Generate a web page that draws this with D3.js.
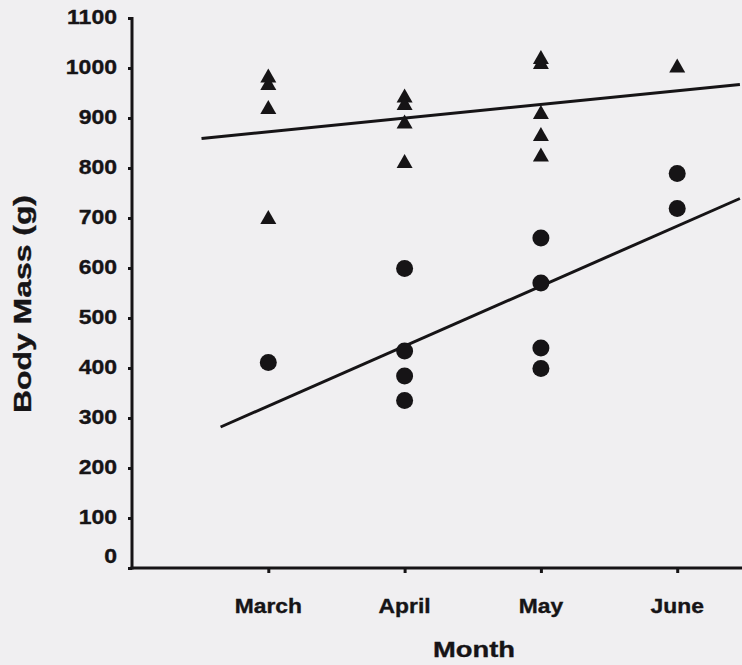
<!DOCTYPE html>
<html><head><meta charset="utf-8">
<script src="https://cdn.jsdelivr.net/npm/d3@7"></script>
<style>
html,body{margin:0;padding:0;background:#f0eff1;}
svg{display:block;}
text{font-family:"Liberation Sans",Arial,Helvetica,sans-serif;font-weight:bold;fill:#161416;stroke:#161416;stroke-width:0.35px;}
</style></head>
<body>
<script>
// ---- data ----
const months = ["March", "April", "May", "June"];
const monthIndex = [1, 2, 3, 4];
const yTicks = [0, 100, 200, 300, 400, 500, 600, 700, 800, 900, 1000, 1100];
// triangles (upper group), per month
const triMarch = [985, 970, 922, 702];
const triApril = [945, 930, 893, 814];
const triMay = [1022, 1012, 912, 868, 827];
const triJune = [1005];
// circles (lower group), per month
const cirMarch = [411];
const cirApril = [599, 434, 384, 335];
const cirMay = [660, 570, 440, 399];
const cirJune = [789, 719];
// fitted lines (endpoints)
const upperLineX = [0.51, 4.46];
const upperLineY = [859, 967];
const lowerLineX = [0.65, 4.46];
const lowerLineY = [282, 739];

const W = 742, H = 665;
const ink = "#161416";
const svg = d3.select("body").append("svg").attr("width", W).attr("height", H);

const x = d3.scaleLinear().domain([0, 4.468]).range([132, 741]);
const y = d3.scaleLinear().domain([0, 1100]).range([568, 18]);

// axes
const yAxis = d3.axisLeft(y).tickValues(yTicks).tickSize(4).tickFormat("");
const gy = svg.append("g").attr("transform", `translate(${x(0)},0)`).call(yAxis);
gy.select(".domain").attr("stroke", ink).attr("stroke-width", 3).attr("d", `M0,${y(1100)-1}V${y(0)+1.5}`);
gy.selectAll(".tick line").attr("stroke", ink).attr("stroke-width", 3);

const xAxis = d3.axisBottom(x).tickValues(monthIndex).tickSize(5).tickFormat("");
const gx = svg.append("g").attr("transform", `translate(0,${y(0)})`).call(xAxis);
gx.select(".domain").attr("stroke", ink).attr("stroke-width", 3).attr("d", `M${x(0)-1.5},0H${W}`);
gx.selectAll(".tick line").attr("stroke", ink).attr("stroke-width", 3);

// y tick labels (stretched horizontally like the reference)
svg.append("g").selectAll("text").data(yTicks).join("text")
  .attr("transform", d => `translate(117,${y(d) + 6 - (d === 0 ? 11 : 0)}) scale(1.18,1)`)
  .attr("text-anchor", "end").style("font-size", "19.5px").text(d => d);

// x tick labels
svg.append("g").selectAll("text").data(monthIndex).join("text")
  .attr("transform", d => `translate(${x(d)},613) scale(1.17,1)`)
  .attr("text-anchor", "middle").style("font-size", "19.5px").text((d, i) => months[i]);

// axis titles
svg.append("text").attr("x", 474).attr("y", 657).attr("text-anchor", "middle")
  .style("font-size", "22px").attr("textLength", 82).attr("lengthAdjust", "spacingAndGlyphs").text("Month");
svg.append("text").attr("transform", "translate(31,304) rotate(-90)").attr("text-anchor", "middle")
  .style("font-size", "23px").attr("textLength", 218).attr("lengthAdjust", "spacingAndGlyphs").text("Body Mass (g)");

// fitted lines
const line = d3.line().x(d => x(d[0])).y(d => y(d[1]));
svg.append("path").datum(d3.zip(upperLineX, upperLineY)).attr("d", line)
  .attr("fill", "none").attr("stroke", ink).attr("stroke-width", 3);
svg.append("path").datum(d3.zip(lowerLineX, lowerLineY)).attr("d", line)
  .attr("fill", "none").attr("stroke", ink).attr("stroke-width", 3);

// points
const triGroups = [triMarch, triApril, triMay, triJune];
const cirGroups = [cirMarch, cirApril, cirMay, cirJune];
const triPts = triGroups.flatMap((arr, i) => arr.map(v => [monthIndex[i], v]));
const cirPts = cirGroups.flatMap((arr, i) => arr.map(v => [monthIndex[i], v]));

const tw = 16, th = 14;
const triPath = `M0,${-th/2}L${tw/2},${th/2}L${-tw/2},${th/2}Z`;
svg.append("g").selectAll("path").data(triPts).join("path")
  .attr("d", triPath).attr("transform", d => `translate(${x(d[0])},${y(d[1])})`)
  .attr("fill", ink);

svg.append("g").selectAll("circle").data(cirPts).join("circle")
  .attr("cx", d => x(d[0])).attr("cy", d => y(d[1])).attr("r", 8.5)
  .attr("fill", ink);
</script>
</body></html>
